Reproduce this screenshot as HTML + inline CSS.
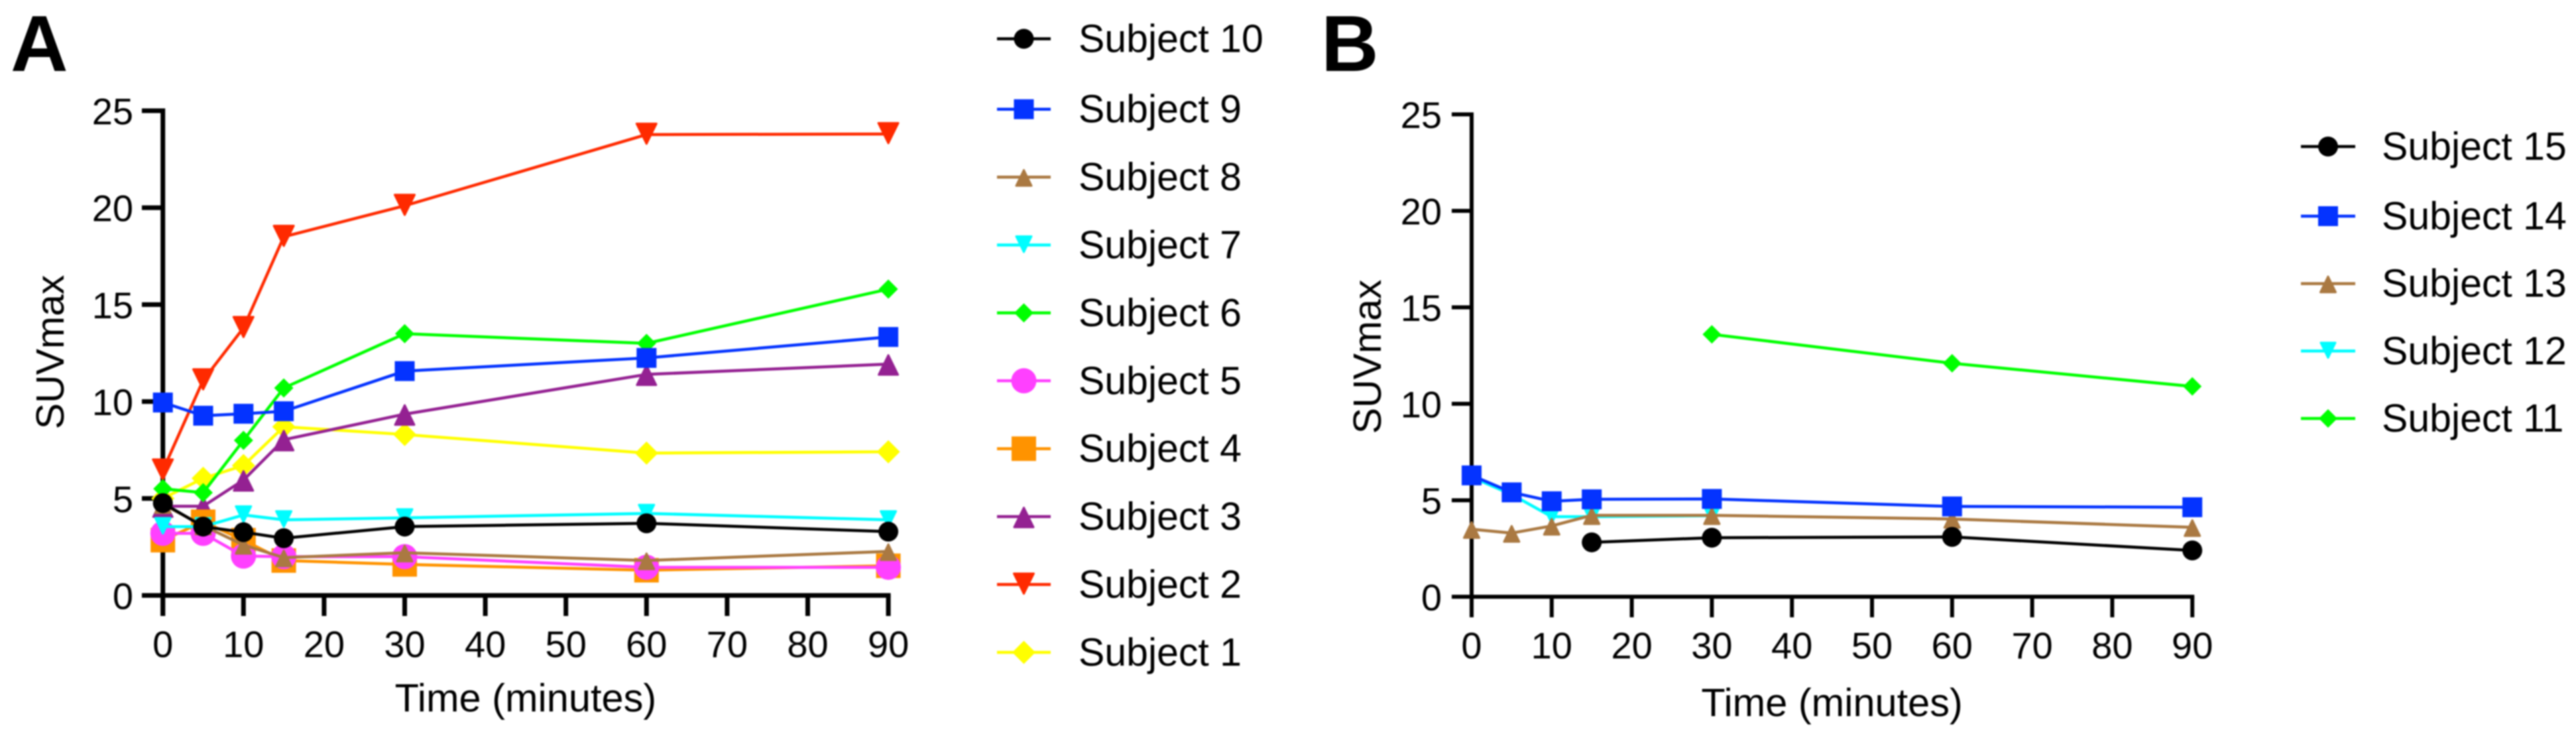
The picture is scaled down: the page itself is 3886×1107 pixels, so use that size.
<!DOCTYPE html>
<html lang="en">
<head>
<meta charset="utf-8">
<title>SUVmax over time</title>
<style>
html,body{margin:0;padding:0;background:#fff;width:3886px;height:1107px;overflow:hidden}
svg{display:block;filter:blur(1px)}
text{font-family:"Liberation Sans",sans-serif;fill:#000}
</style>
</head>
<body>
<svg id="fig" xmlns="http://www.w3.org/2000/svg" width="3886" height="1107" viewBox="0 0 3886 1107">
<rect width="3886" height="1107" fill="#fff"/>
<text x="16" y="107" font-size="120" font-weight="700">A</text>
<text x="1993" y="107" font-size="120" font-weight="700">B</text>
</svg>
<script>
const times = [0, 5, 10, 15, 30, 60, 90];
const xTickLabels = [0, 10, 20, 30, 40, 50, 60, 70, 80, 90];
const yTickLabels = [0, 5, 10, 15, 20, 25];

const legendA = ["Subject 10", "Subject 9", "Subject 8", "Subject 7", "Subject 6", "Subject 5", "Subject 4", "Subject 3", "Subject 2", "Subject 1"];
const subject1 = [5.0, 6.04, 6.7, 8.7, 8.3, 7.34, 7.41];
const subject2 = [6.45, 11.1, 13.8, 18.5, 20.1, 23.77, 23.8];
const subject3 = [4.6, 4.6, 5.95, 8.03, 9.35, 11.4, 11.93];
const subject4 = [2.85, 3.8, 2.85, 1.8, 1.6, 1.3, 1.53];
const subject5 = [3.2, 3.2, 2.03, 2.0, 2.0, 1.45, 1.45];
const subject6 = [5.5, 5.3, 8.0, 10.7, 13.5, 13.0, 15.8];
const subject7 = [3.55, 3.55, 4.15, 3.9, 4.0, 4.23, 3.9];
const subject8 = [4.7, 3.6, 2.6, 1.95, 2.2, 1.8, 2.27];
const subject9 = [9.95, 9.27, 9.37, 9.5, 11.57, 12.25, 13.33];
const subject10 = [4.76, 3.55, 3.26, 2.95, 3.55, 3.72, 3.29];

const legendB = ["Subject 15", "Subject 14", "Subject 13", "Subject 12", "Subject 11"];
const subject11 = [null, null, null, null, 13.6, 12.1, 10.9];
const subject12 = [6.2, 5.3, 4.15, 4.15, 4.2, null, null];
const subject13 = [3.5, 3.3, 3.67, 4.22, 4.22, 4.03, 3.6];
const subject14 = [6.29, 5.41, 4.95, 5.05, 5.07, 4.68, 4.64];
const subject15 = [null, null, null, 2.82, 3.06, 3.1, 2.4];

const SVGNS = "http://www.w3.org/2000/svg";
const fig = document.getElementById("fig");

function make(tag, attrs, parent) {
  const el = document.createElementNS(SVGNS, tag);
  for (const k in attrs) el.setAttribute(k, attrs[k]);
  (parent || fig).appendChild(el);
  return el;
}

const styles = {
  "Subject 1":  {c: "#FFFF00", s: "diamond", w: 35},
  "Subject 2":  {c: "#FF2A00", s: "down", w: 36},
  "Subject 3":  {c: "#942192", s: "up", w: 35},
  "Subject 4":  {c: "#FF9300", s: "square", w: 37},
  "Subject 5":  {c: "#FF40FF", s: "circle", w: 38},
  "Subject 6":  {c: "#00FF00", s: "diamond", w: 29},
  "Subject 7":  {c: "#00FDFF", s: "down", w: 29},
  "Subject 8":  {c: "#AA7942", s: "up", w: 29},
  "Subject 9":  {c: "#0433FF", s: "square", w: 30},
  "Subject 10": {c: "#000000", s: "circle", w: 30},
  "Subject 11": {c: "#00FF00", s: "diamond", w: 28},
  "Subject 12": {c: "#00FDFF", s: "down", w: 28},
  "Subject 13": {c: "#AA7942", s: "up", w: 29},
  "Subject 14": {c: "#0433FF", s: "square", w: 30},
  "Subject 15": {c: "#000000", s: "circle", w: 30}
};

function drawMarker(st, cx, cy, parent) {
  const w = st.w, h = w / 2;
  if (st.s === "circle") return make("circle", {cx: cx, cy: cy, r: h, fill: st.c}, parent);
  if (st.s === "square") return make("rect", {x: cx - h, y: cy - h, width: w, height: w, fill: st.c}, parent);
  if (st.s === "diamond") {
    const d = [[cx, cy - h], [cx + h, cy], [cx, cy + h], [cx - h, cy]];
    return make("polygon", {points: d.map(p => p.join(",")).join(" "), fill: st.c}, parent);
  }
  const i = h - 3;
  const pts = st.s === "up"
    ? [[cx, cy - w * 0.47 + 3], [cx + i, cy + w * 0.5 - 1.5], [cx - i, cy + w * 0.5 - 1.5]]
    : [[cx - i, cy - w * 0.5 + 1.5], [cx + i, cy - w * 0.5 + 1.5], [cx, cy + w * 0.47 - 3]];
  return make("polygon", {points: pts.map(p => p.join(",")).join(" "), fill: st.c, stroke: st.c, "stroke-width": 3, "stroke-linejoin": "round"}, parent);
}

function drawPanel(p) {
  const x = t => p.x0 + t * p.xPerMin;
  const y = v => p.y0 - v * p.yPerUnit;
  const g = make("g", {});
  
  

  const yAxis = make("line", {x1: p.x0, x2: p.x0, y1: y(25) - p.axisW / 2, y2: p.y0 + p.tickDown, stroke: "#000", "stroke-width": p.axisW}, g);
  
  
  const xAxis = make("line", {x1: p.tickLeft, x2: x(90) + p.axisW / 2, y1: p.y0, y2: p.y0, stroke: "#000", "stroke-width": p.axisW}, g);
  
  

  yTickLabels.forEach(v => {
    const tick = make("line", {x1: p.tickLeft, x2: p.x0, y1: y(v), y2: y(v), stroke: "#000", "stroke-width": p.axisW}, g);
    
    
    const label = make("text", {x: p.yLabelX, y: y(v) + 20.5, "text-anchor": "end", "font-size": 56}, g);
    label.textContent = v;
    
    
  });
  xTickLabels.forEach(t => {
    const tick = make("line", {x1: x(t), x2: x(t), y1: p.y0, y2: p.y0 + p.tickDown, stroke: "#000", "stroke-width": p.axisW}, g);
    
    
    const label = make("text", {x: x(t), y: p.xLabelY, "text-anchor": "middle", "font-size": 56}, g);
    label.textContent = t;
    
    
  });

  const xTitle = make("text", {x: x(45), y: p.xTitleY, "text-anchor": "middle", "font-size": 59.5}, g);
  xTitle.textContent = "Time (minutes)";
  
  
  const yTitle = make("text", {transform: "translate(" + p.yTitleX + "," + p.yTitleY + ") rotate(-90)", "text-anchor": "middle", "font-size": 59}, g);
  yTitle.textContent = "SUVmax";
  
  

  p.series.forEach(s => {
    const st = styles[s.name];
    const sg = make("g", {}, g);
    
    
    const pts = [];
    s.values.forEach((v, i) => { if (v !== null) pts.push([x(times[i]), y(v)]); });
    const line = make("polyline", {points: pts.map(q => q.join(",")).join(" "), fill: "none", stroke: st.c, "stroke-width": 4.5, "stroke-linejoin": "round"}, sg);
    
    
    pts.forEach(q => {
      const m = drawMarker(st, q[0], q[1], sg);
      
      
    });
  });

  p.legend.forEach((name, i) => {
    const st = styles[name];
    const cy = i === 0 ? p.legFirst : p.legSecond + (i - 1) * p.legStep;
    const lg = make("g", {}, g);
    
    
    make("line", {x1: p.legX1, x2: p.legX2, y1: cy, y2: cy, stroke: st.c, "stroke-width": 4.5}, lg);
    drawMarker(st, (p.legX1 + p.legX2) / 2, cy, lg);
    const t = make("text", {x: p.legTextX, y: cy + 20, "font-size": 59}, lg);
    t.textContent = name;
  });
}

drawPanel({
  id: "panel-a", x0: 245.7, xPerMin: 12.16, y0: 898, yPerUnit: 29.24,
  axisW: 7, tickLeft: 214, tickDown: 31, yLabelX: 201, xLabelY: 991,
  xTitleY: 1073, yTitleX: 96, yTitleY: 531,
  legX1: 1504, legX2: 1585, legTextX: 1627, legFirst: 58.5, legSecond: 164.7, legStep: 102.4,
  legend: legendA,
  series: [
    {name: "Subject 1", values: subject1},
    {name: "Subject 2", values: subject2},
    {name: "Subject 3", values: subject3},
    {name: "Subject 4", values: subject4},
    {name: "Subject 5", values: subject5},
    {name: "Subject 6", values: subject6},
    {name: "Subject 7", values: subject7},
    {name: "Subject 8", values: subject8},
    {name: "Subject 9", values: subject9},
    {name: "Subject 10", values: subject10}
  ]
});

drawPanel({
  id: "panel-b", x0: 2220, xPerMin: 12.08, y0: 900, yPerUnit: 29.1,
  axisW: 6, tickLeft: 2190, tickDown: 31, yLabelX: 2175, xLabelY: 993,
  xTitleY: 1080, yTitleX: 2083, yTitleY: 538,
  legX1: 3471, legX2: 3553, legTextX: 3593, legFirst: 221, legSecond: 326, legStep: 101.7,
  legend: legendB,
  series: [
    {name: "Subject 11", values: subject11},
    {name: "Subject 12", values: subject12},
    {name: "Subject 13", values: subject13},
    {name: "Subject 14", values: subject14},
    {name: "Subject 15", values: subject15}
  ]
});
</script>
</body>
</html>
